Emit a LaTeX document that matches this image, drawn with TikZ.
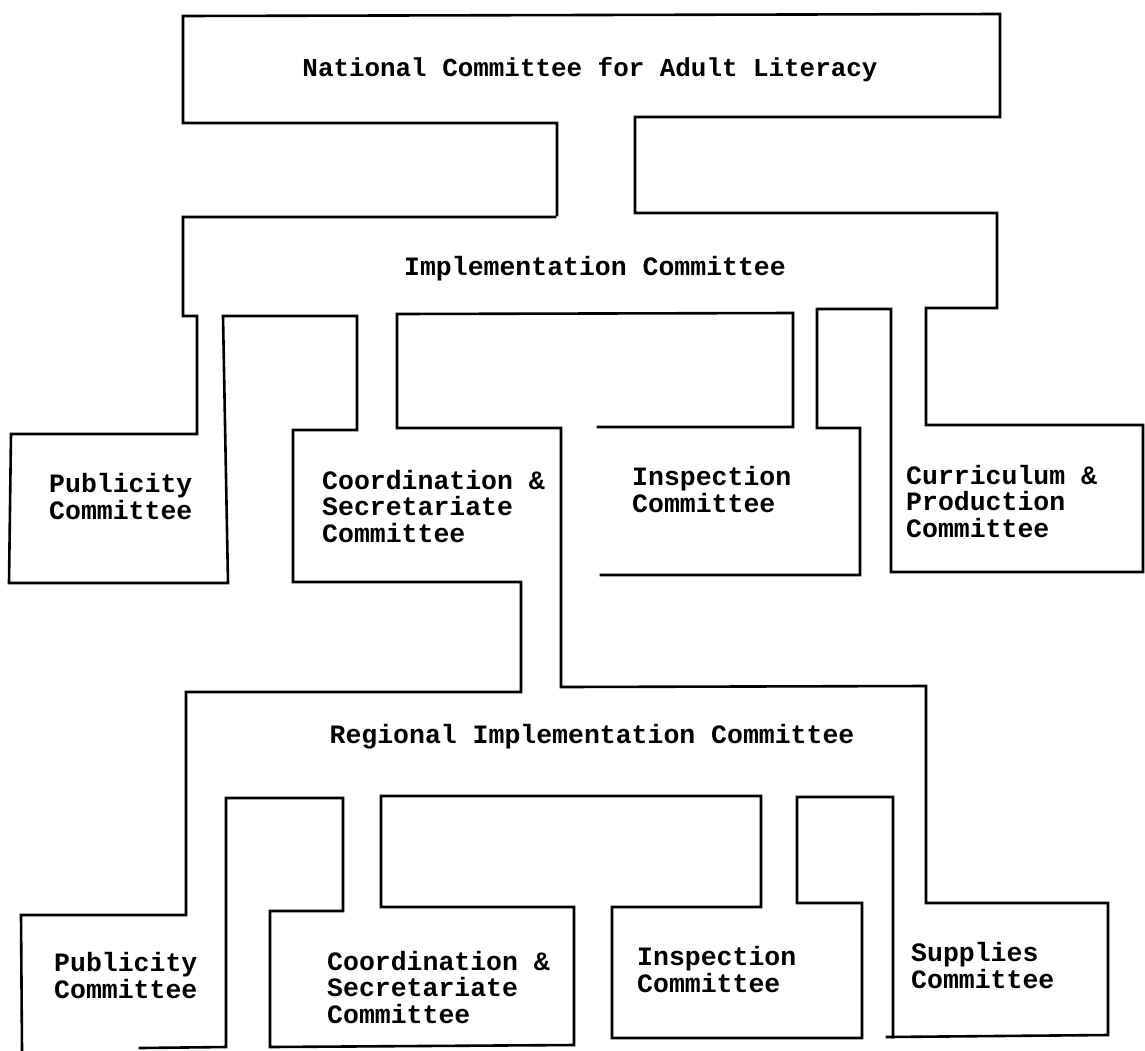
\documentclass[tikz,border=0pt]{standalone}
\usepackage{fontspec}
\newfontfamily\tw{Liberation Mono}
\begin{document}
\begin{tikzpicture}[x=1pt,y=-1pt,
  wall/.style={line width=2.6pt, line join=miter, line cap=rect, black},
  lbl/.style={font=\tw\bfseries\fontsize{26.5}{26.5}\selectfont, inner sep=0pt, align=left}]
\useasboundingbox (0,0) rectangle (1145,1050);
% ---- outline: national, implementation right side, curriculum, inspection right
\draw[wall] (557,215) -- (557,123) -- (183,123) -- (183,16) -- (1000,14) -- (1000,117)
  -- (635,117) -- (635,213) -- (997,213) -- (997,308) -- (926,308) -- (926,425)
  -- (1143,425) -- (1143,572) -- (891,572) -- (891,309) -- (817,309) -- (817,428)
  -- (860,428) -- (860,575) -- (601,575);
% ---- inspection top-left, coordination right wall, regional right, supplies, lower row
\draw[wall] (598,427) -- (793,427) -- (793,313) -- (397,314) -- (397,428) -- (561,428)
  -- (561,687) -- (926,686) -- (926,903) -- (1108,903) -- (1108,1035) -- (887,1037);
\draw[wall] (893,1037) -- (893,797) -- (797,797) -- (797,903) -- (862,903) -- (862,1038)
  -- (612,1038) -- (612,907) -- (761,907) -- (761,796) -- (381,796) -- (381,907)
  -- (574,907) -- (574,1045) -- (270,1047) -- (270,911) -- (343,911) -- (343,798)
  -- (226,798) -- (226,1047) -- (140,1048);
% ---- left side: publicity (lower), regional left, coordination, publicity (upper)
\draw[wall] (22,1050) -- (21,915) -- (186,915) -- (186,692) -- (521,692) -- (521,582)
  -- (293,582) -- (293,430) -- (357,430) -- (357,316) -- (223,316) -- (228,583)
  -- (9,583) -- (11,434) -- (197,434) -- (197,316) -- (183,316) -- (183,217) -- (555,217);
% ---- labels (base anchor = baseline of the last line)
\node[lbl, anchor=base, font=\tw\bfseries\fontsize{25.9}{25.9}\selectfont] (nat) at (590,76) {National Committee for Adult Literacy};
\node[lbl, anchor=base] (impl) at (595,275) {Implementation Committee};
\node[lbl, anchor=base] (reg) at (592,743) {Regional Implementation Committee};
\node[lbl, anchor=base west] (pub1) at (49,519) {Publicity\\Committee};
\node[lbl, anchor=base west] (coo1) at (322,542) {Coordination \&\\Secretariate\\Committee};
\node[lbl, anchor=base west] (insp1) at (632,512) {Inspection\\Committee};
\node[lbl, anchor=base west] (cur) at (906,537) {Curriculum \&\\Production\\Committee};
\node[lbl, anchor=base west] (pub2) at (54,998) {Publicity\\Committee};
\node[lbl, anchor=base west] (coo2) at (327,1023) {Coordination \&\\Secretariate\\Committee};
\node[lbl, anchor=base west] (insp2) at (637,992) {Inspection\\Committee};
\node[lbl, anchor=base west] (sup) at (911,988) {Supplies\\Committee};
\end{tikzpicture}
\end{document}
